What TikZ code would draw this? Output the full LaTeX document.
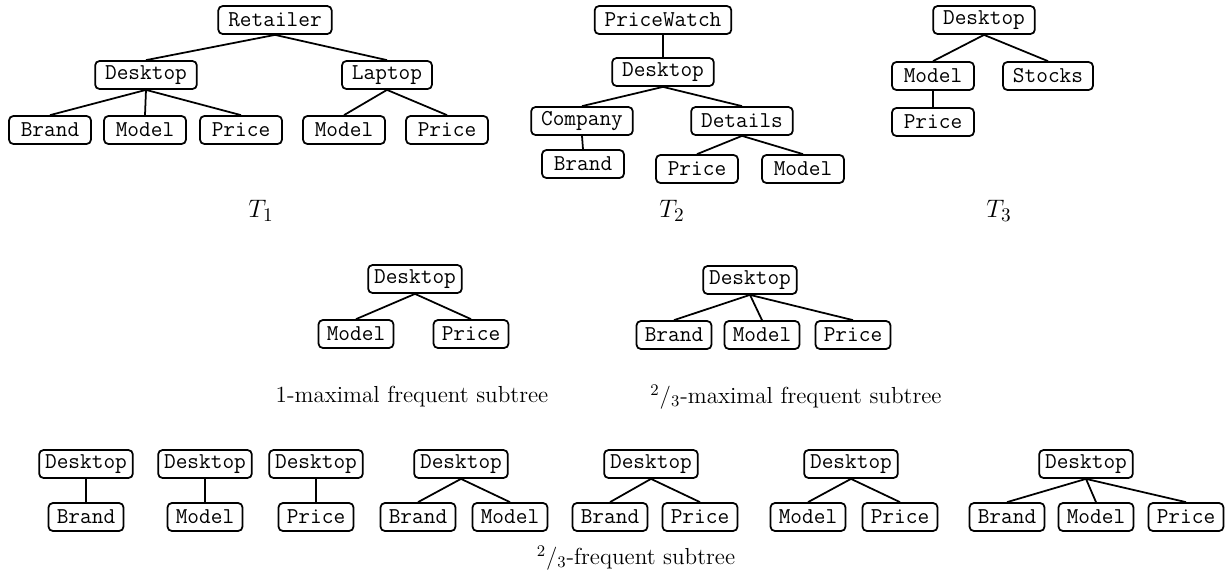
\documentclass[tikz,border=0pt]{standalone}
\usepackage{fontspec}
\usetikzlibrary{positioning}

\begin{document}
\begin{tikzpicture}[x=0.02cm, y=-0.02cm, line width=1pt]
				\tikzstyle{round} = [draw=black, rounded corners=2.5pt, font=\ttfamily\fontsize{12.9}{15}\selectfont, minimum height=0.56cm, inner ysep=0pt, inner xsep=0.2cm, minimum width=1.64cm]
				\tikzstyle{small} = [round, inner xsep=0.12cm, minimum width=1.5cm]
				\tikzstyle{invis} = [draw=none, font=\fontsize{13.2}{16}\selectfont]
				\tikzstyle{treename} = [draw=none, font=\fontsize{15}{18}\selectfont]
				
				\useasboundingbox (0,0) rectangle (1225,583);
				
				% T1
				\node[round] 	at (275, 20) 	(a0) 	{Retailer};
				\node[round] 	at (146, 75) 	(a1) 	{Desktop};
				\node[round] 	at (387, 75) 	(a2) 	{Laptop};
				\node[round] 	at (50, 130) 	(a3) 	{Brand};
				\node[round] 	at (145, 130) 	(a4) 	{Model};
				\node[round] 	at (241, 130) 	(a5) 	{Price};
				\node[round] 	at (344, 130) 	(a6) 	{Model};
				\node[round] 	at (447, 130) 	(a7) 	{Price};
				\node[treename] at (261, 211) 	(t1) 	{$T_1$};
				
				% T2
				\node[round] 	at (663, 20) 	(b0) 	{PriceWatch};
				\node[round] 	at (663, 72) 	(b1) 	{Desktop};
				\node[round] 	at (582, 121) 	(b2) 	{Company};
				\node[round] 	at (742, 121) 	(b3) 	{Details};
				\node[round] 	at (583, 164) 	(b4) 	{Brand};
				\node[round] 	at (697, 169) 	(b5) 	{Price};
				\node[round] 	at (803, 169) 	(b6) 	{Model};
				\node[treename] at (672, 211) 	(t2) 	{$T_2$};
				
				% T3
				\node[round] 	at (984, 20) 	(c0) 	{Desktop};
				\node[round] 	at (933, 76) 	(c1) 	{Model};
				\node[round] 	at (1048, 76) 	(c2) 	{Stocks};
				\node[round] 	at (933, 122) 	(c3) 	{Price};
				\node[treename] at (999, 211) 	(t3) 	{$T_3$};
				
				% maximal subtrees
				\node[small] 	at (415, 279) 	(d0) 	{Desktop};
				\node[small] 	at (356, 334) 	(d1) 	{Model};
				\node[small] 	at (471, 334) 	(d2) 	{Price};
				\node[invis] 	at (412, 397) 	(m1) 	{1-maximal frequent subtree};
				
				\node[small] 	at (750, 280) 	(e0) 	{Desktop};
				\node[small] 	at (674, 335) 	(e1) 	{Brand};
				\node[small] 	at (762, 335) 	(e2) 	{Model};
				\node[small] 	at (853, 335) 	(e3) 	{Price};
				\node[invis] 	at (796, 397) 	(m2) 	{\textsuperscript{2}/\textsubscript{3}-maximal frequent subtree};
				
				% frequent subtrees
				\node[small] 	at (86, 464) 	(f0) 	{Desktop};
				\node[small] 	at (86, 517) 	(f1) 	{Brand};
				\node[small] 	at (205, 464) 	(g0) 	{Desktop};
				\node[small] 	at (205, 517) 	(g1) 	{Model};
				\node[small] 	at (316, 464) 	(h0) 	{Desktop};
				\node[small] 	at (316, 517) 	(h1) 	{Price};
				\node[small] 	at (461, 464) 	(i0) 	{Desktop};
				\node[small] 	at (418, 517) 	(i1) 	{Brand};
				\node[small] 	at (510, 517) 	(i2) 	{Model};
				\node[small] 	at (651, 464) 	(j0) 	{Desktop};
				\node[small] 	at (610, 517) 	(j1) 	{Brand};
				\node[small] 	at (700, 517) 	(j2) 	{Price};
				\node[small] 	at (851, 464) 	(k0) 	{Desktop};
				\node[small] 	at (808, 517) 	(k1) 	{Model};
				\node[small] 	at (900, 517) 	(k2) 	{Price};
				\node[small] 	at (1086, 464) 	(l0) 	{Desktop};
				\node[small] 	at (1007, 517) 	(l1) 	{Brand};
				\node[small] 	at (1096, 517) 	(l2) 	{Model};
				\node[small] 	at (1186, 517) 	(l3) 	{Price};
				\node[invis] 	at (636, 558) 	(m3) 	{\textsuperscript{2}/\textsubscript{3}-frequent subtree};
				
				\path
				(a0.south)	edge	(a1.north)
				(a0.south)	edge	(a2.north)
				(a1.south)	edge	(a3.north)
				(a1.south)	edge	(a4.north)
				(a1.south)	edge	(a5.north)
				(a2.south)	edge	(a6.north)
				(a2.south)	edge	(a7.north)
				(b0.south)	edge	(b1.north)
				(b1.south)	edge	(b2.north)
				(b1.south)	edge	(b3.north)
				(b2.south)	edge	(b4.north)
				(b3.south)	edge	(b5.north)
				(b3.south)	edge	(b6.north)
				(c0.south)	edge	(c1.north)
				(c0.south)	edge	(c2.north)
				(c1.south)	edge	(c3.north)
				(d0.south)	edge	(d1.north)
				(d0.south)	edge	(d2.north)
				(e0.south)	edge	(e1.north)
				(e0.south)	edge	(e2.north)
				(e0.south)	edge	(e3.north)
				(f0.south)	edge	(f1.north)
				(g0.south)	edge	(g1.north)
				(h0.south)	edge	(h1.north)
				(i0.south)	edge	(i1.north)
				(i0.south)	edge	(i2.north)
				(j0.south)	edge	(j1.north)
				(j0.south)	edge	(j2.north)
				(k0.south)	edge	(k1.north)
				(k0.south)	edge	(k2.north)
				(l0.south)	edge	(l1.north)
				(l0.south)	edge	(l2.north)
				(l0.south)	edge	(l3.north);
			\end{tikzpicture}
\end{document}
